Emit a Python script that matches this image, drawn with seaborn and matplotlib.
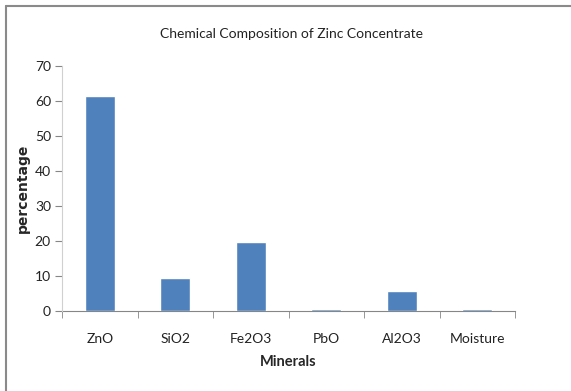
import matplotlib
matplotlib.use("Agg")
import matplotlib.pyplot as plt
import seaborn as sns
import pandas as pd
from matplotlib.lines import Line2D

# data
minerals = ['ZnO', 'SiO2', 'Fe2O3', 'PbO', 'Al2O3', 'Moisture']
percentages = [61.5, 9.3, 19.8, 0.6, 5.8, 0.6]
y_ticks = [0, 10, 20, 30, 40, 50, 60, 70]

df = pd.DataFrame({'Minerals': minerals, 'percentage': percentages})

sns.set_style('white')
plt.rcParams['font.family'] = ['Lato', 'DejaVu Sans']

fig = plt.figure(figsize=(5.71, 3.91), dpi=100)
ax = fig.add_axes([62 / 571, 1 - 311 / 391, 453 / 571, 245 / 391])

sns.barplot(data=df, x='Minerals', y='percentage', color='#4F81BD',
            width=0.4, saturation=1, ax=ax, zorder=3)

ax.set_xlim(-0.5, len(minerals) - 0.5)
ax.set_ylim(0, 70)
ax.set_yticks(y_ticks)
ax.set_yticklabels([str(t) for t in y_ticks], fontsize=10, color='#222222')
ax.set_xticks(range(len(minerals)))
ax.set_xticklabels(minerals, fontsize=10, color='#222222')
ax.set_xticks([i - 0.5 for i in range(len(minerals) + 1)], minor=True)
ax.tick_params(axis='x', which='major', length=0, pad=16)
ax.tick_params(axis='x', which='minor', length=5, color='#868686', direction='out', bottom=True)
ax.tick_params(axis='y', length=5, color='#868686', direction='out', left=True, pad=3)

for s in ['top', 'right']:
    ax.spines[s].set_visible(False)
ax.spines['left'].set_color('#d0d0d0')
ax.spines['bottom'].set_color('#868686')
ax.spines['bottom'].set_zorder(1)

ax.set_xlabel('Minerals', fontsize=10.5, fontweight='bold')
ax.xaxis.set_label_coords(0.5, -0.18)
ax.set_ylabel('percentage', fontsize=10, fontweight='bold', family='DejaVu Sans')
ax.yaxis.set_label_coords(-0.07, 0.5)

fig.text(291 / 571, 1 - 34 / 391, 'Chemical Composition of Zinc Concentrate',
         ha='center', va='center', fontsize=10, color='#222222')

# chart area border (only top and left visible)
fig.add_artist(Line2D([6 / 571, 6 / 571], [0, 1 - 6 / 391], transform=fig.transFigure,
                      color='#8a8a8a', lw=1.5))
fig.add_artist(Line2D([6 / 571, 1], [1 - 6 / 391, 1 - 6 / 391], transform=fig.transFigure,
                      color='#8a8a8a', lw=1.5))

plt.savefig('out.png', dpi=100)
